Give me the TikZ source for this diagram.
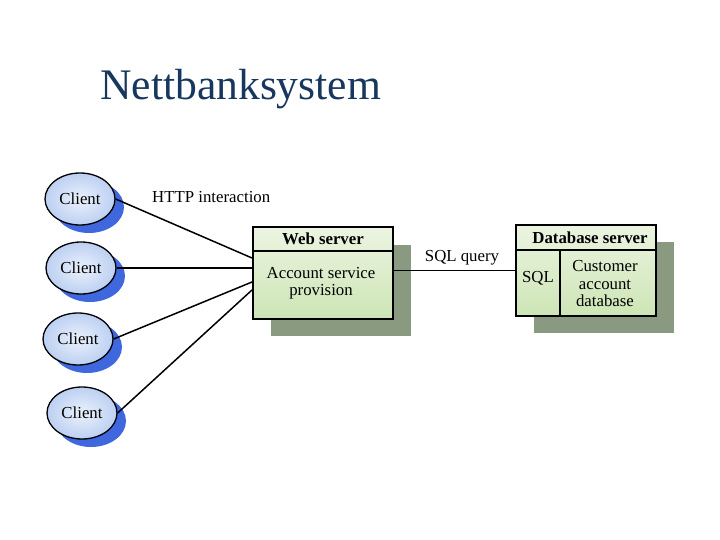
\documentclass[tikz,border=0pt]{standalone}
\usepackage{fontspec}
\setmainfont{Liberation Serif}
\usetikzlibrary{shapes.geometric,shadows}

\definecolor{titleblue}{HTML}{17375E}
\definecolor{clientfill}{HTML}{BCD0F2}
\definecolor{clientshadow}{HTML}{3F68DF}
\definecolor{boxfill}{HTML}{CDE5B5}
\definecolor{boxshadow}{HTML}{8A9A80}

\tikzset{
  client/.style={draw, ellipse, line width=1.3pt, minimum width=70pt, minimum height=52pt,
    inner color=white!70!clientfill, outer color=clientfill,
    general shadow={fill=clientshadow, shadow xshift=9pt, shadow yshift=-8pt}},
  serverbox/.style={draw, rectangle, line width=2pt, minimum width=140pt, minimum height=91pt,
    top color=white!60!boxfill, bottom color=boxfill,
    general shadow={fill=boxshadow, shadow xshift=18pt, shadow yshift=-17pt}},
  label/.style={font=\fontsize{16.8}{17.5}\selectfont, inner sep=0pt, align=center},
  link/.style={line width=1.5pt}
}

\begin{document}
\begin{tikzpicture}[x=1pt, y=-1pt]
  \useasboundingbox (0,0) rectangle (720,540);

  % --- Title ---
  \node[anchor=base west, inner sep=0pt, text=titleblue, font=\fontsize{43.6}{46}\selectfont]
    (title) at (100,100) {Nettbanksystem};

  % --- Clients ---
  \foreach \i/\x/\y in {1/80/199, 2/81/268, 3/78/339, 4/82/413} {
    \node[client] (client\i) at (\x,\y) {};
    \node[label] (clienttext\i) at (\x,\y) {Client};
  }
  \node[label, anchor=west] (http) at (152,197) {HTTP interaction};

  % --- Web server ---
  \node[serverbox] (web) at (323,273) {};
  \draw[line width=2pt] ([yshift=-24pt]web.north west) coordinate (webl)
    -- ([yshift=-24pt]web.north east) coordinate (webr);
  \node[label, font=\fontsize{16.8}{17.5}\selectfont\bfseries] (webtitle) at (323,239) {Web server};
  \node[label] (webtext) at (321,283) {Account service\\provision};

  % --- Database server ---
  \node[serverbox] (db) at (586,270.5) {};
  \draw[line width=2pt] ([yshift=-26pt]db.north west) coordinate (dbl)
    -- ([yshift=-26pt]db.north east) coordinate (dbr);
  \draw[line width=2pt] ([xshift=45pt]dbl) coordinate (dbdiv) -- (dbdiv |- db.south);
  \node[label, font=\fontsize{16.8}{17.5}\selectfont\bfseries] (dbtitle) at (590,238) {Database server};
  \node[label] (sql) at (538,278) {SQL};
  \node[label] (dbtext) at (605,284) {Customer\\account\\database};

  % --- Connections ---
  \draw[link] (client1.east) -- ([yshift=15pt]web.west);
  \draw[link] (client2.east) -- ([yshift=5pt]web.west);
  \draw[link] (client3.east) -- ([yshift=-9pt]web.west);
  \draw[link] (client4.east) -- ([yshift=-17pt]web.west);
  \draw[link] (web.east |- db.west) -- (db.west);
  \node[label] (query) at (462,258) {SQL query};
\end{tikzpicture}
\end{document}
